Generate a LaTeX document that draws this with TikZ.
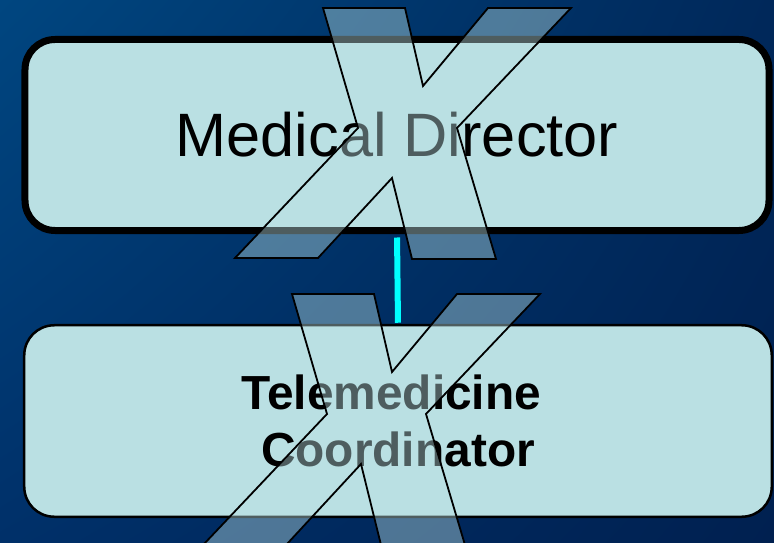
\documentclass[tikz,border=0pt]{standalone}
\usepackage{fontspec}
\setmainfont{Liberation Sans}
\usetikzlibrary{shadings}
\definecolor{boxfill}{RGB}{186,224,227}
\definecolor{linkcyan}{RGB}{0,255,255}
\definecolor{bgul}{RGB}{0,70,128}
\definecolor{bgur}{RGB}{0,40,90}
\definecolor{bgll}{RGB}{0,48,105}
\definecolor{bglr}{RGB}{0,32,80}
\begin{document}
\begin{tikzpicture}[x=1bp, y=-1bp,
        rolebox/.style={draw=black, fill=boxfill, rounded corners=30bp, inner sep=0pt, align=center},
        crossmark/.style={draw=black, line width=1.8bp, fill=boxfill, fill opacity=0.42, line join=miter},
        link/.style={draw=linkcyan, line width=6bp}
    ]
    % Hintergrund
    \useasboundingbox (0,0) rectangle (774,543);
    \shade[upper left=bgul, upper right=bgur, lower left=bgll, lower right=bglr]
        (0,0) rectangle (774,543);

    % Kaesten
    \node[rolebox, line width=7bp, minimum width=744bp, minimum height=191bp,
          font=\fontsize{61.5}{72}\selectfont] (director) at (397,135) {Medical Director};
    \node[rolebox, line width=2.5bp, minimum width=747.5bp, minimum height=191.5bp,
          font=\fontsize{48}{57}\selectfont\bfseries] (coordinator) at (398,421)
        {Telemedicine\hspace*{0.28em}\\Coordinator};

    % Verbindung
    \draw[link, shorten <=3.5bp, shorten >=1.25bp] (director.south) -- (coordinator.north);

    % Kreuze
    \foreach \dx/\dy in {0/0, -31/286} {
        \begin{scope}[shift={(\dx,\dy)}]
            \draw[crossmark] (323,8) -- (405,8) -- (423,86) -- (488,8) -- (571,8) -- (457,128)
                -- (496,259) -- (412,259) -- (392,178) -- (318,258) -- (235,258) -- (358,128) -- cycle;
        \end{scope}
    }
\end{tikzpicture}
\end{document}
